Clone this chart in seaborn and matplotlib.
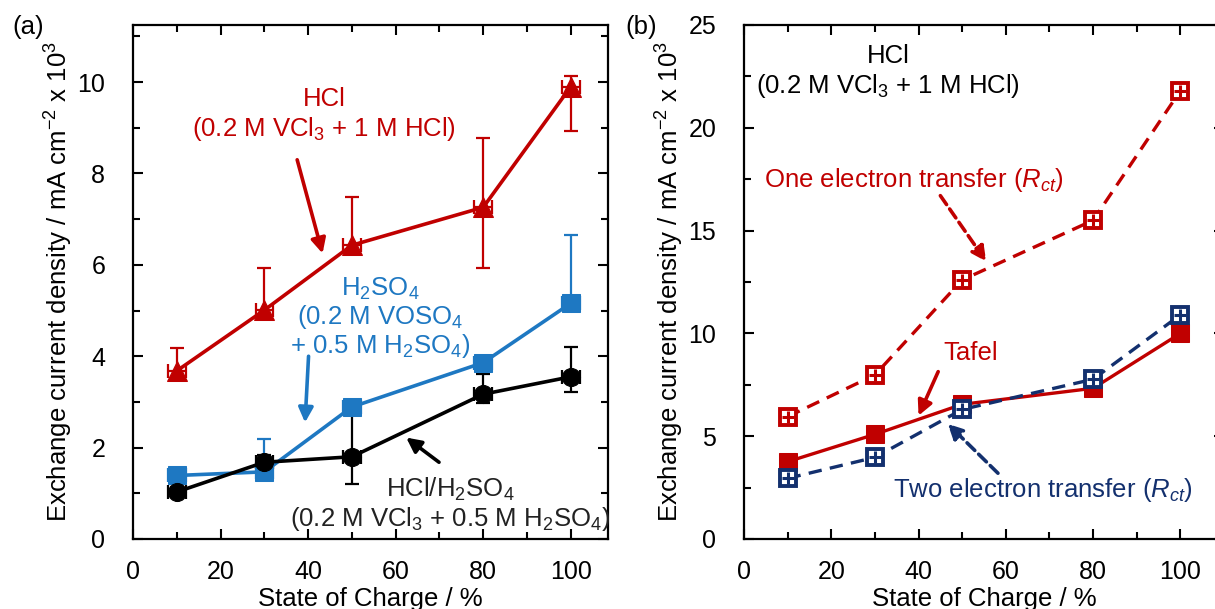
import numpy as np
import pandas as pd
import seaborn as sns
import matplotlib
matplotlib.use("Agg")
import matplotlib.pyplot as plt
from matplotlib.ticker import MultipleLocator

sns.set_theme(style="ticks")
plt.rcParams['font.family'] = ['Liberation Sans', 'DejaVu Sans']
plt.rcParams['mathtext.fontset'] = 'custom'
plt.rcParams['mathtext.rm'] = 'Liberation Sans'
plt.rcParams['mathtext.it'] = 'Liberation Sans:italic'
plt.rcParams['text.color'] = 'black'
plt.rcParams['axes.labelcolor'] = 'black'
plt.rcParams['xtick.color'] = 'black'
plt.rcParams['ytick.color'] = 'black'

# ---------------- data ----------------
soc = [10, 30, 50, 80, 100]

# panel (a)
hcl = [3.68, 5.01, 6.43, 7.26, 9.90]
hcl_err_up = [0.50, 0.92, 1.05, 1.52, 0.24]
hcl_err_dn = [0.15, 0.15, 0.15, 1.33, 0.97]

h2so4 = [1.39, 1.47, 2.89, 3.86, 5.16]
h2so4_err_up = [0.12, 0.72, 0.12, 0.12, 1.49]
h2so4_err_dn = [0.10, 0.10, 0.10, 0.10, 0.10]

mix = [1.03, 1.68, 1.80, 3.17, 3.55]
mix_err_up = [0.10, 0.15, 0.95, 0.45, 0.65]
mix_err_dn = [0.10, 0.12, 0.60, 0.19, 0.33]

soc_xerr = [2, 2, 2, 2, 2]

# panel (b)
tafel = [3.76, 5.09, 6.55, 7.33, 10.0]
one_e = [5.95, 7.98, 12.6, 15.5, 21.8]
two_e = [2.95, 3.97, 6.30, 7.77, 10.9]

RED = '#C00000'
BLUE = '#1E78C2'
BLACK = '#000000'
NAVY = '#13306E'

FS = 18.5
TFS = 18

fig = plt.figure(figsize=(12.15, 6.09), dpi=100)
axa = fig.add_axes([133/1215, 70/609, (608-133)/1215, (539-25)/609])
axb = fig.add_axes([744/1215, 70/609, 480/1215, (539-25)/609])

def style_axes(ax, ymaj, ymin):
    ax.xaxis.set_major_locator(MultipleLocator(20))
    ax.xaxis.set_minor_locator(MultipleLocator(10))
    ax.yaxis.set_major_locator(MultipleLocator(ymaj))
    ax.yaxis.set_minor_locator(MultipleLocator(ymin))
    ax.tick_params(axis='x', which='major', direction='in', top=True,
                   width=1.5, length=7, color='black', labelcolor='black',
                   labelsize=TFS, pad=15)
    ax.tick_params(axis='y', which='major', direction='in', right=True,
                   width=1.5, length=7, color='black', labelcolor='black',
                   labelsize=TFS, pad=20)
    ax.tick_params(which='minor', direction='in', top=True, right=True,
                   width=1.5, length=5, color='black')
    for s in ax.spines.values():
        s.set_linewidth(1.6)
        s.set_color('black')
    ax.set_xlabel('State of Charge / %', fontsize=FS, labelpad=2,
                  color='black')
    ax.set_ylabel('Exchange current density / mA cm$^{-2}$ x 10$^{3}$',
                  fontsize=FS, labelpad=2, color='black')

# ---------------- panel (a) ----------------
series_a = [
    (hcl, hcl_err_dn, hcl_err_up, RED, '^', 14),
    (h2so4, h2so4_err_dn, h2so4_err_up, BLUE, 's', 13),
    (mix, mix_err_dn, mix_err_up, BLACK, 'o', 13),
]
for vals, edn, eup, col, mk, ms in series_a:
    axa.errorbar(soc, vals, yerr=[edn, eup], xerr=soc_xerr, fmt='none',
                 ecolor=col, elinewidth=1.6, capsize=5, capthick=1.6, zorder=2)
    sns.lineplot(x=soc, y=vals, ax=axa, color=col, marker=mk, markersize=ms,
                 markeredgecolor=col, linewidth=2.6, zorder=3)

axa.set_xlim(0, 108.5)
axa.set_ylim(0, 11.25)
style_axes(axa, 2, 1)

axa.text(43.7, 9.28, 'HCl\n(0.2 M VCl$_3$ + 1 M HCl)', color=RED, fontsize=FS,
         ha='center', va='center', multialignment='center', linespacing=1.2)
axa.annotate('', xy=(43.3, 6.25), xytext=(37.5, 8.3),
             arrowprops=dict(arrowstyle='-|>', color=RED, lw=2.6,
                             mutation_scale=22, shrinkA=0, shrinkB=0))
axa.text(56.5, 4.84, 'H$_2$SO$_4$\n(0.2 M VOSO$_4$\n+ 0.5 M H$_2$SO$_4$)',
         color=BLUE, fontsize=FS, ha='center', va='center',
         multialignment='center', linespacing=1.05)
axa.annotate('', xy=(39.3, 2.55), xytext=(40.1, 4.0),
             arrowprops=dict(arrowstyle='-|>', color=BLUE, lw=2.6,
                             mutation_scale=22, shrinkA=0, shrinkB=0))
axa.annotate('', xy=(62.4, 2.22), xytext=(69.9, 1.68),
             arrowprops=dict(arrowstyle='-|>', color=BLACK, lw=2.6,
                             mutation_scale=22, shrinkA=0, shrinkB=0))
axa.text(72.5, 0.76, 'HCl/H$_2$SO$_4$\n(0.2 M VCl$_3$ + 0.5 M H$_2$SO$_4$)',
         color='#222222', fontsize=FS, ha='center', va='center',
         multialignment='center', linespacing=1.1)

# ---------------- panel (b) ----------------
sns.lineplot(x=soc, y=one_e, ax=axb, color=RED, marker='s', markersize=12,
             markerfacecolor='white', markeredgecolor=RED, markeredgewidth=2.8,
             linewidth=2.4, linestyle=(0, (4, 2.5)), zorder=3)
sns.lineplot(x=soc, y=two_e, ax=axb, color=NAVY, marker='s', markersize=12,
             markerfacecolor='white', markeredgecolor=NAVY, markeredgewidth=2.8,
             linewidth=2.4, linestyle=(0, (4, 2.5)), zorder=4)
sns.lineplot(x=soc, y=tafel, ax=axb, color=RED, marker='s', markersize=13,
             markeredgecolor=RED, linewidth=2.4, zorder=3)
for vals, col in [(one_e, RED), (two_e, NAVY)]:
    axb.plot(soc, vals, linestyle='none', marker='+', markersize=8,
             markeredgewidth=2.2, color=col, zorder=5)

axb.set_xlim(0, 110)
axb.set_ylim(0, 25)
style_axes(axb, 5, 2.5)

axb.text(33, 22.7, 'HCl\n(0.2 M VCl$_3$ + 1 M HCl)', color=BLACK, fontsize=FS,
         ha='center', va='center', multialignment='center', linespacing=1.2)
axb.text(38.9, 17.45, 'One electron transfer ($R_{ct}$)', color=RED,
         fontsize=FS, ha='center', va='center')
axb.annotate('', xy=(55.5, 13.5), xytext=(45, 16.7),
             arrowprops=dict(arrowstyle='-|>', color=RED, lw=2.6,
                             linestyle=(0, (3, 1.5)),
                             mutation_scale=22, shrinkA=0, shrinkB=0))
axb.text(52, 9.05, 'Tafel', color=RED, fontsize=FS, ha='center', va='center')
axb.annotate('', xy=(40, 6.0), xytext=(44.5, 8.14),
             arrowprops=dict(arrowstyle='-|>', color=RED, lw=2.6,
                             mutation_scale=22, shrinkA=0, shrinkB=0))
axb.annotate('', xy=(46.7, 5.6), xytext=(58.2, 3.2),
             arrowprops=dict(arrowstyle='-|>', color=NAVY, lw=2.6,
                             linestyle=(0, (3, 1.5)),
                             mutation_scale=22, shrinkA=0, shrinkB=0))
axb.text(68.6, 2.38, 'Two electron transfer ($R_{ct}$)', color=NAVY,
         fontsize=FS, ha='center', va='center')

fig.text(12/1215, 1 - 27/609, '(a)', fontsize=FS, ha='left', va='center')
fig.text(625/1215, 1 - 27/609, '(b)', fontsize=FS, ha='left', va='center')

fig.savefig('out.png', dpi=100)
